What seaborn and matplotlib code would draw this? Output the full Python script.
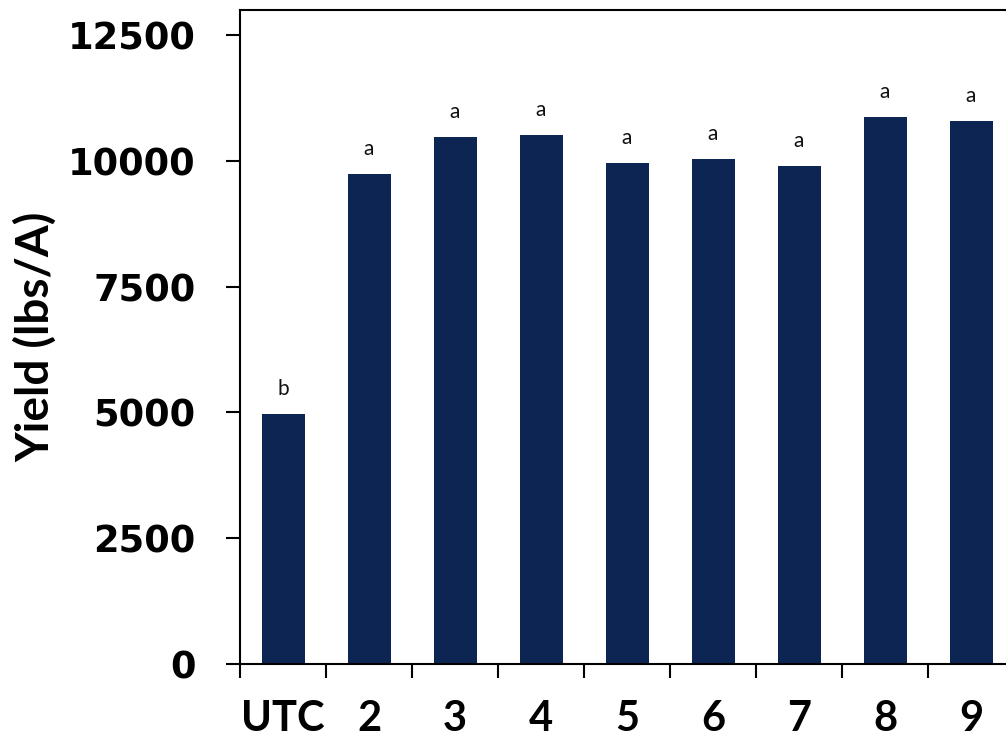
import numpy as np
import pandas as pd
import seaborn as sns
import matplotlib.pyplot as plt
from matplotlib.ticker import FixedLocator

# Dados
tratamentos = ['UTC', '2', '3', '4', '5', '6', '7', '8', '9']
produtividade = [4970, 9740, 10470, 10510, 9950, 10030, 9900, 10870, 10790]
letras = ['b', 'a', 'a', 'a', 'a', 'a', 'a', 'a', 'a']
yticks = [0, 2500, 5000, 7500, 10000, 12500]

df = pd.DataFrame({'Tratamento': tratamentos, 'Yield': produtividade})

sns.set_style('ticks')
plt.rcParams['font.family'] = ['Lato', 'DejaVu Sans']
plt.rcParams['text.color'] = 'black'
plt.rcParams['xtick.color'] = 'black'
plt.rcParams['ytick.color'] = 'black'
plt.rcParams['axes.labelcolor'] = 'black'

fig = plt.figure(figsize=(10.06, 7.51), dpi=100)
ax = fig.add_axes([240 / 1006, 87 / 751, 766 / 1006, 654 / 751])

sns.barplot(data=df, x='Tratamento', y='Yield', color='#0c2552',
            width=0.5, saturation=1, edgecolor='none', ax=ax)

# Letras de significancia
for i, (v, l) in enumerate(zip(produtividade, letras)):
    ax.annotate(l, (i, v), xytext=(0, 11), textcoords='offset points',
                ha='center', va='bottom', fontsize=15, color='#111111')

ax.set_ylim(0, 13000)
ax.set_xlim(-0.5, -0.5 + 766 / 86)
ax.set_yticks(yticks)
ax.set_yticklabels([str(t) for t in yticks], family='DejaVu Sans',
                   fontweight='bold', fontsize=26.5)
ax.set_xticks(range(len(tratamentos)))
ax.set_xticklabels(tratamentos, fontweight='bold', fontsize=30)
ax.xaxis.set_minor_locator(FixedLocator(np.arange(-0.5, 9.5, 1)))

ax.tick_params(axis='x', which='major', length=0, pad=26)
ax.tick_params(axis='x', which='minor', length=10, width=1.5, direction='out')
ax.tick_params(axis='y', length=10, width=1.5, direction='out', pad=22)

for s in ['left', 'bottom', 'top']:
    ax.spines[s].set_linewidth(1.5)
    ax.spines[s].set_color('black')
ax.spines['right'].set_visible(False)

ax.set_xlabel('')
ax.set_ylabel('Yield (lbs/A)', fontweight='bold', fontsize=33, labelpad=8)

fig.savefig('out.png', dpi=100)
